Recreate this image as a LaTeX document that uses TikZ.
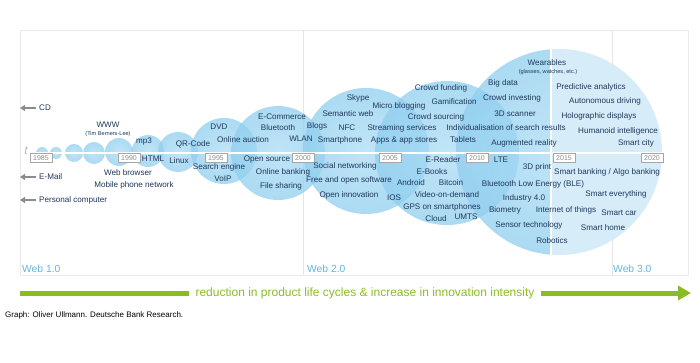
\documentclass[tikz,border=0pt]{standalone}
\usepackage{fontspec}
\setmainfont{Liberation Sans}
\usetikzlibrary{arrows.meta}

\definecolor{ink}{RGB}{30,56,92}
\definecolor{bubble}{RGB}{68,168,222}
\definecolor{bubblelight}{RGB}{170,220,245}
\definecolor{futurelight}{RGB}{214,236,248}
\definecolor{futureedge}{RGB}{188,225,244}
\definecolor{webblue}{RGB}{100,182,226}
\definecolor{leafgreen}{RGB}{138,189,36}

\pgfdeclareradialshading{bubbleshade}{\pgfpoint{0bp}{0bp}}{%
  color(0bp)=(bubblelight); color(28bp)=(bubblelight!70!bubble);
  color(50bp)=(bubble); color(100bp)=(bubble)}
\pgfdeclareradialshading{futureshade}{\pgfpoint{0bp}{0bp}}{%
  color(0bp)=(futurelight); color(35bp)=(futurelight);
  color(50bp)=(futureedge); color(100bp)=(futureedge)}

\begin{document}
\begin{tikzpicture}[x=1pt, y=-1pt, >=Stealth,
  lbl/.style={text=ink, font=\fontsize{8.1}{9}\selectfont, inner sep=0.5pt},
  note/.style={text=ink, font=\fontsize{5.6}{6}\selectfont, inner sep=0.5pt},
  yearbox/.style={draw=black!35, fill=white, text=black!45, font=\fontsize{7}{7}\selectfont,
    inner sep=1pt, minimum width=22pt, minimum height=9pt, anchor=north},
  weblbl/.style={text=webblue, font=\fontsize{10.3}{11}\selectfont, anchor=south west, inner sep=0pt},
  bub/.style={shading=bubbleshade, fill opacity=0.74},
  backarr/.style={draw=black!45, line width=2pt, shorten <=2pt, -{Triangle[length=5pt,width=6pt]}},
  greenbar/.style={draw=leafgreen, line width=5pt}]
  \useasboundingbox (0,0) rectangle (700,363);
  % ---------------------------------------------------------------- panel
  \draw[black!8, fill=white] (20,30) rectangle (688,275);
  \draw[black!10] (303,30) -- (303,275) (612,30) -- (612,275);
  % ---------------------------------------------------------------- bubbles
  \foreach \cx/\cy/\r in {42/153/6, 56/153/6, 74/153/9, 94/153/11, 119/152/14,
      148/151/16, 178/152/20, 224/151/33, 278/153/47, 366/151/63, 447/153/72}
    \shade[bub] (\cx,\cy) circle (\r);
  \begin{scope}
    \clip (440,0) rectangle (551,363);
    \shade[bub] (559,152) circle (103);
  \end{scope}
  \begin{scope}
    \clip (551,0) rectangle (700,363);
    \shade[shading=futureshade] (559,152) circle (103);
  \end{scope}
  \draw[white, line width=2pt] (551,49) -- (551,255);
  \draw[white, line width=2pt] (33,153) -- (663,153);
  \node[text=black!28, font=\itshape\fontsize{12}{12}\selectfont] (tmark) at (26,151) {t};
  % ---------------------------------------------------------------- years
  \foreach \yr/\x in {1985/41, 1990/129, 1995/216, 2000/303, 2005/390, 2010/477, 2015/564, 2020/652}
    \node[yearbox] (y\yr) at (\x,153.5) {\yr};
  % ---------------------------------------------------------------- older items
  \node[lbl, anchor=west, inner sep=1pt] (cd) at (38,108) {CD};
  \node[lbl, anchor=west, inner sep=1pt] (email) at (38,177) {E-Mail};
  \node[lbl, anchor=west, inner sep=1pt] (pc) at (38,200) {Personal computer};
  \coordinate (cdend) at (20,108);
  \coordinate (emailend) at (20,177);
  \coordinate (pcend) at (20,200);
  \draw[backarr] (cd.west) -- (cdend);
  \draw[backarr] (email.west) -- (emailend);
  \draw[backarr] (pc.west) -- (pcend);
  % ---------------------------------------------------------------- 1985--2000
  \node[lbl] (www) at (108,125) {WWW};
  \node[note] (tbl) at (108,134) {(Tim Berners-Lee)};
  \node[lbl] (mpthree) at (144,142) {mp3};
  \node[lbl] (html) at (153,159) {HTML};
  \node[lbl] (browser) at (128,173) {Web browser};
  \node[lbl] (mobile) at (134,185) {Mobile phone network};
  \node[lbl] (qrcode) at (193,144) {QR-Code};
  \node[lbl] (linux) at (179,161) {Linux};
  \node[lbl] (dvd) at (219,127) {DVD};
  \node[lbl] (auction) at (243,140) {Online auction};
  \node[lbl] (search) at (219,167) {Search engine};
  \node[lbl] (voip) at (223,179) {VoIP};
  \node[lbl] (ecommerce) at (282,117) {E-Commerce};
  \node[lbl] (bluetooth) at (278,128) {Bluetooth};
  \node[lbl] (wlan) at (301,139) {WLAN};
  \node[lbl] (opensource) at (267,160) {Open source};
  \node[lbl] (banking) at (283,172) {Online banking};
  \node[lbl] (filesharing) at (281,186) {File sharing};
  % ---------------------------------------------------------------- 2000--2010
  \node[lbl] (blogs) at (317,126) {Blogs};
  \node[lbl] (skype) at (358,98) {Skype};
  \node[lbl] (semantic) at (348,114) {Semantic web};
  \node[lbl] (nfc) at (347,128) {NFC};
  \node[lbl] (smartphone) at (340,140) {Smartphone};
  \node[lbl] (microblog) at (399,106) {Micro blogging};
  \node[lbl] (social) at (345,166) {Social networking};
  \node[lbl] (foss) at (349,180) {Free and open software};
  \node[lbl] (openinno) at (349,195) {Open innovation};
  \node[lbl] (ios) at (394,198) {IOS};
  \node[lbl] (streaming) at (402,128) {Streaming services};
  \node[lbl] (apps) at (404,141) {Apps \& app stores};
  \node[lbl] (crowdfund) at (441,88) {Crowd funding};
  \node[lbl] (gamify) at (454,102) {Gamification};
  \node[lbl] (crowdsrc) at (436,117) {Crowd sourcing};
  \node[lbl] (tablets) at (463,140) {Tablets};
  \node[lbl] (ereader) at (443,160) {E-Reader};
  \node[lbl] (ebooks) at (432,172) {E-Books};
  \node[lbl] (android) at (411,183) {Android};
  \node[lbl] (bitcoin) at (451,183) {Bitcoin};
  \node[lbl] (vod) at (447,195) {Video-on-demand};
  \node[lbl] (gps) at (442,207) {GPS on smartphones};
  \node[lbl] (cloud) at (436,219) {Cloud};
  \node[lbl] (umts) at (466,217) {UMTS};
  % ---------------------------------------------------------------- 2010--2015
  \node[lbl] (bigdata) at (503,83) {Big data};
  \node[lbl] (crowdinv) at (512,98) {Crowd investing};
  \node[lbl] (scanner) at (515,114) {3D scanner};
  \node[lbl] (individual) at (506,128) {Individualisation of search results};
  \node[lbl] (augmented) at (524,143) {Augmented reality};
  \node[lbl] (lte) at (501,160) {LTE};
  \node[lbl] (print) at (537,167) {3D print};
  \node[lbl] (ble) at (533,184) {Bluetooth Low Energy (BLE)};
  \node[lbl] (industry) at (524,198) {Industry 4.0};
  \node[lbl] (biometry) at (505,210) {Biometry};
  \node[lbl] (iot) at (566,210) {Internet of things};
  \node[lbl] (sensor) at (529,225) {Sensor technology};
  \node[lbl] (robotics) at (552,241) {Robotics};
  % ---------------------------------------------------------------- 2015--2020
  \node[lbl] (wearables) at (547,63) {Wearables};
  \node[note] (wearnote) at (548,72) {(glasses, watches, etc.)};
  \node[lbl] (predictive) at (591,87) {Predictive analytics};
  \node[lbl] (autonomous) at (605,101) {Autonomous driving};
  \node[lbl] (holo) at (599,116) {Holographic displays};
  \node[lbl] (humanoid) at (618,131) {Humanoid intelligence};
  \node[lbl] (smartcity) at (636,143) {Smart city};
  \node[lbl] (algobank) at (607,172) {Smart banking / Algo banking};
  \node[lbl] (everything) at (616,194) {Smart everything};
  \node[lbl] (smartcar) at (619,213) {Smart car};
  \node[lbl] (smarthome) at (603,228) {Smart home};
  % ---------------------------------------------------------------- web eras
  \node[weblbl] (webone) at (22,273) {Web 1.0};
  \node[weblbl] (webtwo) at (307,273) {Web 2.0};
  \node[weblbl] (webthree) at (613,273) {Web 3.0};
  % ---------------------------------------------------------------- trend arrow
  \node[text=leafgreen, font=\fontsize{12}{13}\selectfont, inner sep=6pt] (trend) at (365,293)
    {reduction in product life cycles \& increase in innovation intensity};
  \coordinate (trendstart) at (20,293);
  \coordinate (trendend) at (691,293);
  \draw[greenbar] (trendstart) -- (trend.west);
  \draw[greenbar, -{Triangle[length=13pt,width=14pt]}] (trend.east) -- (trendend);
  \node[anchor=west, font=\fontsize{8}{9}\selectfont, inner sep=0pt] (source) at (5,315)
    {Graph: Oliver Ullmann. Deutsche Bank Research.};
\end{tikzpicture}
\end{document}
